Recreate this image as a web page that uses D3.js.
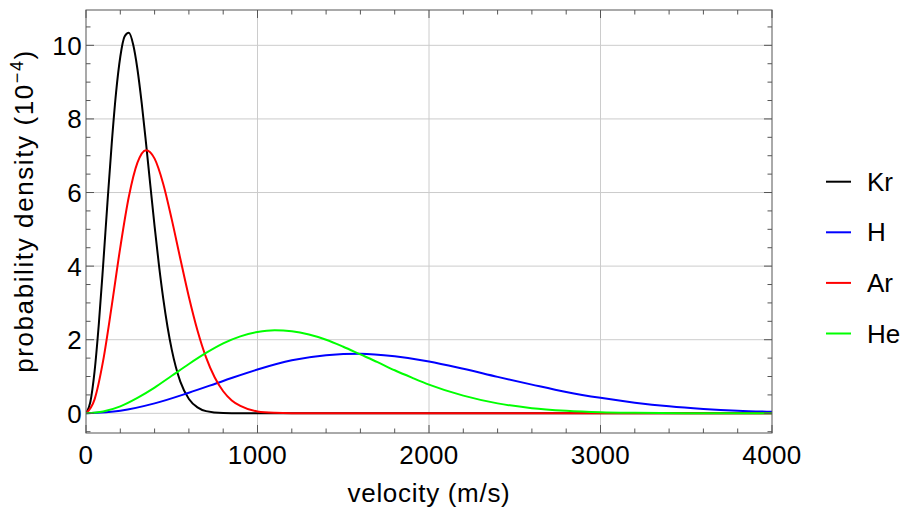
<!DOCTYPE html>
<html>
<head>
<meta charset="utf-8">
<script src="https://cdn.jsdelivr.net/npm/d3@7"></script>
<style>
  body { margin: 0; background: #fff; }
  text { font-family: "Liberation Sans", Arial, sans-serif; fill: #000; }
</style>
</head>
<body>
<div id="chart"></div>
<script>
// values (density in units of 10^-4)
var species = ["Kr", "H", "Ar", "He"];
var colors = ["#000000", "#0000ff", "#ff0000", "#00ff00"];

var krVelocity = [0, 25, 50, 75, 100, 125, 150, 175, 200, 225, 250, 275, 300, 325, 350, 375, 400, 425, 450, 475, 500, 550, 600, 650, 700, 800, 900, 1000, 4000];
var krDensity  = [0, 0.30, 1.14, 2.44, 4.03, 5.72, 7.33, 8.70, 9.69, 10.24, 10.34, 10.02, 9.35, 8.42, 7.34, 6.20, 5.08, 4.04, 3.13, 2.36, 1.73, 0.86, 0.39, 0.16, 0.06, 0.006, 0, 0, 0];

var hVelocity = [0, 200, 400, 600, 800, 1000, 1200, 1400, 1600, 1800, 2000, 2200, 2400, 2600, 2800, 3000, 3200, 3400, 3600, 3800, 4000];
var hDensity  = [0, 0.07, 0.27, 0.56, 0.88, 1.19, 1.44, 1.58, 1.62, 1.55, 1.41, 1.21, 0.99, 0.78, 0.58, 0.42, 0.29, 0.19, 0.12, 0.07, 0.04];

var arVelocity = [0, 50, 100, 150, 200, 250, 300, 350, 400, 450, 500, 550, 600, 650, 700, 750, 800, 850, 900, 1000, 1100, 1200, 1400, 4000];
var arDensity  = [0, 0.38, 1.43, 2.92, 4.51, 5.89, 6.81, 7.15, 6.92, 6.24, 5.27, 4.20, 3.16, 2.25, 1.52, 0.98, 0.60, 0.35, 0.20, 0.05, 0.012, 0.002, 0, 0];

var heVelocity = [0, 100, 200, 300, 400, 500, 600, 700, 800, 900, 1000, 1100, 1200, 1300, 1400, 1500, 1600, 1700, 1800, 1900, 2000, 2200, 2400, 2600, 2800, 3000, 3200, 3500, 4000];
var heDensity  = [0, 0.05, 0.19, 0.42, 0.70, 1.02, 1.34, 1.64, 1.90, 2.09, 2.21, 2.26, 2.23, 2.14, 2.00, 1.81, 1.60, 1.39, 1.17, 0.97, 0.78, 0.48, 0.27, 0.14, 0.07, 0.03, 0.013, 0.003, 0];

var xTicks = [0, 1000, 2000, 3000, 4000];
var yTicks = [0, 2, 4, 6, 8, 10];

(function(){
  var seriesV = [krVelocity, hVelocity, arVelocity, heVelocity];
  var seriesD = [krDensity, hDensity, arDensity, heDensity];

  var width = 903, height = 514;
  var mLeft = 86, mRight = 772, mTop = 10, mBottom = 433;

  var svg = d3.select("#chart").append("svg")
    .attr("width", width)
    .attr("height", height);

  var x = d3.scaleLinear().domain([0, 4000]).range([mLeft, mRight]);
  var y = d3.scaleLinear().domain([-0.535, 10.96]).range([mBottom, mTop]);

  // grid
  svg.append("g").selectAll("line")
    .data(xTicks.slice(1, 4)).enter().append("line")
    .attr("x1", d => x(d)).attr("x2", d => x(d))
    .attr("y1", mTop).attr("y2", mBottom)
    .attr("stroke", "#cccccc").attr("stroke-width", 1);
  svg.append("g").selectAll("line")
    .data(yTicks).enter().append("line")
    .attr("x1", mLeft).attr("x2", mRight)
    .attr("y1", d => y(d)).attr("y2", d => y(d))
    .attr("stroke", "#cccccc").attr("stroke-width", 1);

  // curves
  svg.append("clipPath").attr("id", "plotclip")
    .append("rect").attr("x", mLeft).attr("y", mTop)
    .attr("width", mRight - mLeft).attr("height", mBottom - mTop);

  var line = d3.line()
    .x(d => x(d[0]))
    .y(d => y(d[1]))
    .curve(d3.curveMonotoneX);

  species.forEach(function(s, i) {
    var pts = seriesV[i].map((v, j) => [v, seriesD[i][j]]);
    svg.append("path")
      .datum(pts)
      .attr("clip-path", "url(#plotclip)")
      .attr("fill", "none")
      .attr("stroke", colors[i])
      .attr("stroke-width", 2)
      .attr("d", line);
  });

  // frame and ticks
  var axisColor = "#555555";
  svg.append("rect")
    .attr("x", mLeft).attr("y", mTop)
    .attr("width", mRight - mLeft).attr("height", mBottom - mTop)
    .attr("fill", "none").attr("stroke", axisColor).attr("stroke-width", 1);

  var xMinor = d3.range(0, 4001, 200);
  var yMinor = d3.range(-0.5, 10.51, 0.5);

  var ticks = svg.append("g").attr("stroke", axisColor).attr("stroke-width", 1);
  xMinor.forEach(function(v) {
    var len = (v % 1000 === 0) ? 8 : 4.5;
    ticks.append("line").attr("x1", x(v)).attr("x2", x(v)).attr("y1", mBottom).attr("y2", mBottom - len);
    ticks.append("line").attr("x1", x(v)).attr("x2", x(v)).attr("y1", mTop).attr("y2", mTop + len);
  });
  yMinor.forEach(function(v) {
    var len = (Math.abs(v % 2) < 1e-9) ? 8 : 4.5;
    ticks.append("line").attr("x1", mLeft).attr("x2", mLeft + len).attr("y1", y(v)).attr("y2", y(v));
    ticks.append("line").attr("x1", mRight).attr("x2", mRight - len).attr("y1", y(v)).attr("y2", y(v));
  });

  // tick labels
  svg.append("g").selectAll("text")
    .data(xTicks).enter().append("text")
    .attr("x", d => x(d)).attr("y", mBottom + 31)
    .attr("text-anchor", "middle")
    .attr("font-size", 26)
    .attr("letter-spacing", 0.4)
    .text(d => d);

  svg.append("g").selectAll("text")
    .data(yTicks).enter().append("text")
    .attr("x", mLeft - 4).attr("y", d => y(d) + 9.5)
    .attr("text-anchor", "end")
    .attr("font-size", 26)
    .attr("letter-spacing", 0.4)
    .text(d => d);

  // axis titles
  svg.append("text")
    .attr("x", (mLeft + mRight) / 2 + 0).attr("y", 502)
    .attr("text-anchor", "middle")
    .attr("font-size", 26)
    .attr("letter-spacing", 0.7)
    .text("velocity (m/s)");

  var yl = svg.append("text")
    .attr("transform", "translate(33,211) rotate(-90)")
    .attr("text-anchor", "middle")
    .attr("font-size", 26)
    .attr("letter-spacing", 1.6);
  yl.append("tspan").text("probability density (10");
  yl.append("tspan").attr("dy", -10).attr("font-size", 18).text("\u22124");
  yl.append("tspan").attr("dy", 10).text(")");

  // legend
  var legend = svg.append("g");
  species.forEach(function(s, i) {
    var ly = 181.7 + i * 50.6;
    legend.append("line")
      .attr("x1", 826).attr("x2", 851)
      .attr("y1", ly).attr("y2", ly)
      .attr("stroke", colors[i]).attr("stroke-width", 2);
    legend.append("text")
      .attr("x", 867).attr("y", ly + 9)
      .attr("font-size", 26)
      .text(s);
  });
})();
</script>
</body>
</html>
